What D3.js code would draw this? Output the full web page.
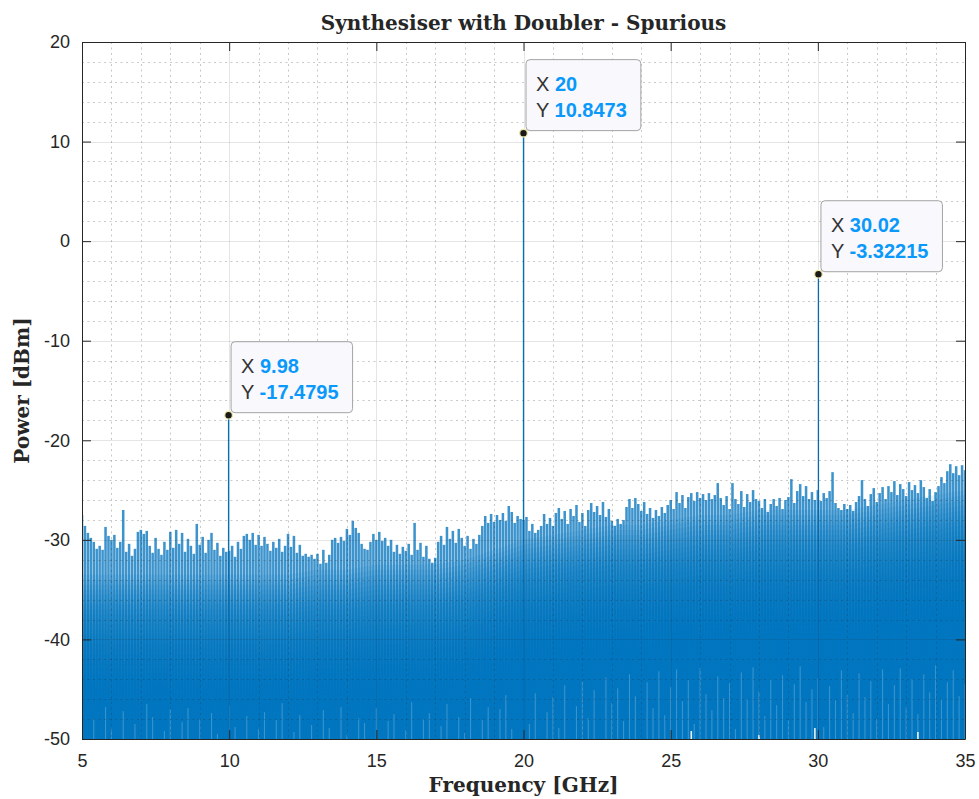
<!DOCTYPE html>
<html>
<head>
<meta charset="utf-8">
<script src="https://cdn.jsdelivr.net/npm/d3@7/dist/d3.min.js"></script>
<style>
  body { margin: 0; background: #fff; }
  .tick text { font-family: "Liberation Sans", Arial, Helvetica, sans-serif; font-size: 18px; fill: #262626; }
  .lbl { font-family: "DejaVu Serif", serif; font-weight: bold; font-size: 20px; fill: #262626; }
</style>
</head>
<body>
<svg id="chart" width="979" height="799"></svg>
<script>
// ---- data ----
var freqStart = 5, freqStep = 0.1;          // noise samples, GHz
// top of the noise spikes, dBm, one value per 0.1 GHz (5.0 .. 35.0)
var noisePeak = [
  -27.5, -28.6, -29.3, -29.8, -30.2, -30.9, -30.6, -31.0, -28.7, -29.6,
  -30.0, -29.5, -30.8, -30.2, -27.0, -31.2, -30.4, -31.6, -30.9, -29.2,
  -29.0, -29.4, -29.1, -30.6, -31.3, -29.8, -30.9, -31.5, -30.2, -31.0,
  -29.2, -30.8, -29.0, -30.4, -29.3, -31.2, -29.9, -30.6, -31.4, -28.4,
  -30.5, -29.7, -31.3, -30.0, -29.3, -31.0, -30.3, -31.6, -30.8, -31.2,
  -31.1, -30.6, -31.7, -30.2, -30.9, -29.6, -29.4, -30.0, -29.3, -30.5,
  -29.5, -30.6, -29.7, -30.4, -31.1, -30.2, -30.8, -29.9, -31.2, -30.6,
  -29.4, -30.7, -29.6, -31.3, -30.5, -31.6, -31.4, -31.7, -31.5, -31.9,
  -31.4, -32.4, -31.0, -32.3, -31.5, -30.0, -29.8, -30.3, -29.7, -30.1,
  -28.9, -29.5, -28.1, -28.8, -29.3, -30.4, -30.9, -31.0, -30.2, -29.4,
  -30.0, -29.2, -30.1, -29.8, -30.6, -30.0, -31.2, -30.5, -31.4, -30.7,
  -31.1, -30.4, -31.5, -28.3, -31.0, -30.3, -31.7, -30.6, -31.9, -32.3,
  -31.8, -30.2, -29.6, -30.5, -28.7, -29.9, -29.1, -30.3, -28.9, -29.8,
  -30.6, -29.6, -30.9, -29.9, -30.4, -29.5, -28.6, -27.6, -28.3, -27.4,
  -28.2, -27.5, -28.0, -27.3, -28.1, -26.6, -27.2, -28.3, -27.6, -27.9,
  -28.0, -27.7, -29.1, -28.4, -29.3, -29.0, -28.6, -27.4, -28.4, -27.8,
  -28.6, -27.3, -26.8, -27.9, -27.1, -28.4, -26.9, -27.6, -26.5, -28.2,
  -27.3, -28.6, -27.0, -26.3, -27.2, -26.6, -27.5, -26.2, -27.7, -26.9,
  -28.1, -28.6, -27.9, -28.4, -28.0, -26.7, -25.9, -26.8, -25.8, -26.4,
  -27.1, -26.2, -27.4, -26.8, -27.8, -27.0, -27.6, -26.7, -27.3, -26.5,
  -26.0, -26.9, -25.2, -26.3, -25.5, -26.8, -25.7, -25.3, -26.1, -25.2,
  -25.8, -25.4, -26.0, -25.3, -25.9, -25.5, -24.3, -25.8, -26.5, -25.6,
  -26.9, -24.3, -25.9, -26.4, -25.1, -26.7, -25.4, -26.2, -25.0, -25.9,
  -26.1, -26.8, -25.9, -27.2, -26.4, -25.9, -26.6, -25.8, -26.9, -26.0,
  -25.7, -23.9, -26.3, -25.1, -24.4, -25.6, -24.6, -25.9, -25.2, -26.0,
  -25.0, -26.1, -25.3, -25.8, -25.1, -23.2, -26.3, -26.8, -27.0, -26.4,
  -26.9, -26.5, -27.1, -26.2, -25.6, -24.0, -25.9, -26.6, -25.4, -24.8,
  -26.2, -25.3, -24.7, -25.9, -24.6, -25.2, -24.1, -25.5, -24.4, -24.9,
  -25.6, -24.2, -25.0, -24.5, -25.3, -24.0, -24.7, -25.8, -24.9, -26.1,
  -25.2, -24.6, -23.7, -24.3, -23.1, -22.4, -23.3, -22.6, -23.5, -22.5,
  -23.0
];
// level below which the trace is solid, dBm, one value per GHz (5 .. 35)
var coreStart = 5, coreStep = 1;
var noiseCore = [
  -40.5, -40.5, -40.5, -40.5, -40.5, -40.5, -40.5, -40.5, -40, -40, -39.5,
  -39.5, -39.5, -39, -38, -37, -36.5, -36, -35.5, -35.5, -35,
  -34.5, -34.5, -34, -34, -34, -34, -33.5, -33, -32.5, -32
];
// shallow troughs (light streaks rising from the floor), one value per 0.2 GHz
var troughStart = 5, troughStep = 0.2;
var noiseTrough = [
  -47.5, -50, -48.0, -50, -46.8, -49.0, -50, -47.2, -50, -48.5,
  -50, -46.5, -47.8, -50, -49.2, -47.0, -50, -48.3, -46.9, -50,
  -48.0, -50, -47.4, -49.5, -50, -46.6, -48.8, -50, -47.7, -50,
  -49.0, -47.3, -50, -48.1, -46.4, -50, -49.3, -47.6, -50, -48.6,
  -50, -47.1, -48.9, -50, -46.8, -49.6, -50, -47.9, -48.4, -50,
  -46.9, -50, -48.2, -47.5, -50, -49.1, -46.3, -50, -48.0, -47.4,
  -50, -48.7, -46.5, -50, -47.8, -49.4, -45.9, -50, -48.1, -46.8,
  -50, -47.0, -45.6, -49.0, -50, -46.2, -48.5, -45.4, -50, -47.3,
  -45.8, -48.9, -44.6, -50, -46.7, -44.2, -47.9, -45.1, -50, -43.8,
  -46.4, -44.9, -48.2, -43.5, -45.7, -50, -44.3, -46.9, -43.2, -47.6,
  -44.8, -43.0, -46.2, -44.1, -48.5, -42.9, -45.5, -47.1, -43.7, -45.9,
  -44.4, -49.0, -43.3, -46.0, -42.8, -45.2, -47.7, -44.0, -46.6, -43.6,
  -48.1, -44.5, -42.7, -46.3, -45.0, -43.9, -48.8, -44.7, -46.1, -43.1,
  -45.6, -47.4, -43.4, -45.8, -44.2, -48.0, -43.0, -46.5, -44.6, -42.9,
  -46.8, -44.0, -47.5, -43.5, -45.3, -42.6, -46.0, -44.3, -43.1, -45.7,
  -44.5
];
// spots where the floor is left almost white
var gapFreq = [25.7, 28.0, 29.9, 33.4];
var gapDb   = [-49.2, -49.6, -48.9, -49.3];
// tones with data tips
var toneFreq  = [9.98, 20, 30.02];
var tonePower = [-17.4795, 10.8473, -3.32215];

var xTicks = [5, 10, 15, 20, 25, 30, 35];
var yTicks = [20, 10, 0, -10, -20, -30, -40, -50];

var titleText = "Synthesiser with Doubler - Spurious";
var xLabel = "Frequency [GHz]";
var yLabel = "Power [dBm]";

// ---- layout ----
var svg = d3.select("#chart"),
    pl = 82, pr = 965, pt = 42, pb = 739;

var x = d3.scaleLinear().domain([5, 35]).range([pl, pr]);
var y = d3.scaleLinear().domain([-50, 20]).range([pb, pt]);
var blue = "#0072BD";

svg.append("defs").append("clipPath").attr("id", "plot")
    .append("rect").attr("x", pl).attr("y", pt)
    .attr("width", pr - pl).attr("height", pb - pt);

var plot = svg.append("g").attr("clip-path", "url(#plot)");

// noise spikes
var noise = noisePeak.map(function (d, i) {
    return {f: freqStart + i * freqStep, p: d};
});
var bw = (x(freqStart + freqStep) - x(freqStart)) * 0.86;

plot.append("g").selectAll("rect")
    .data(noise)
    .enter().append("rect")
    .attr("x", function (d) { return x(d.f) - bw / 2; })
    .attr("width", bw)
    .attr("y", function (d) { return y(d.p); })
    .attr("height", function (d) { return pb - y(d.p); })
    .attr("fill", blue)
    .attr("fill-opacity", 0.76);

// dense core of the trace, faded in over several dB (no hard edge)
var core = noiseCore.map(function (d, i) {
    return {f: coreStart + i * coreStep, p: d};
});
d3.range(7, -6, -0.5).forEach(function (off) {
    plot.append("path")
        .datum(core)
        .attr("fill", blue)
        .attr("fill-opacity", 0.11)
        .attr("d", d3.area()
            .x(function (d) { return x(d.f); })
            .y0(pb)
            .y1(function (d) { return y(d.p + off); }));
});

// light streaks where the trace does not reach the floor
var trough = noiseTrough.map(function (d, i) {
    return {f: troughStart + i * troughStep, p: d};
}).filter(function (d) { return d.p > -50; });
plot.append("g").selectAll("rect")
    .data(trough)
    .enter().append("rect")
    .attr("x", function (d) { return x(d.f) - 0.55; })
    .attr("width", 1.1)
    .attr("y", function (d) { return y(d.p); })
    .attr("height", function (d) { return pb - y(d.p); })
    .attr("fill", "#ffffff")
    .attr("fill-opacity", 0.22);
plot.append("g").selectAll("rect")
    .data(gapFreq)
    .enter().append("rect")
    .attr("x", function (d) { return x(d) - 0.8; })
    .attr("width", 1.6)
    .attr("y", function (d, i) { return y(gapDb[i]); })
    .attr("height", function (d, i) { return pb - y(gapDb[i]); })
    .attr("fill", "#ffffff")
    .attr("fill-opacity", 0.9);

// tone lines
plot.append("g").selectAll("line")
    .data(toneFreq)
    .enter().append("line")
    .attr("x1", function (d) { return x(d); })
    .attr("x2", function (d) { return x(d); })
    .attr("y1", pb)
    .attr("y2", function (d, i) { return y(tonePower[i]); })
    .attr("stroke", blue)
    .attr("stroke-width", 1.3);

// grid (drawn over the trace, translucent like MATLAB)
var grid = svg.append("g");
grid.selectAll(".minx")
    .data(d3.range(6, 35, 1).filter(function (d) { return d % 5 !== 0; }))
    .enter().append("line")
    .attr("x1", function (d) { return Math.round(x(d)) + 0.5; })
    .attr("x2", function (d) { return Math.round(x(d)) + 0.5; })
    .attr("y1", pt).attr("y2", pb)
    .attr("stroke", "#262626").attr("stroke-opacity", 0.25)
    .attr("stroke-dasharray", "2,3.5");
grid.selectAll(".miny")
    .data(d3.range(-48, 20, 2).filter(function (d) { return d % 10 !== 0; }))
    .enter().append("line")
    .attr("y1", function (d) { return Math.round(y(d)) + 0.5; })
    .attr("y2", function (d) { return Math.round(y(d)) + 0.5; })
    .attr("x1", pl).attr("x2", pr)
    .attr("stroke", "#262626").attr("stroke-opacity", 0.25)
    .attr("stroke-dasharray", "2,3.5");
grid.selectAll(".majx")
    .data(xTicks.slice(1, -1))
    .enter().append("line")
    .attr("x1", function (d) { return Math.round(x(d)) + 0.5; })
    .attr("x2", function (d) { return Math.round(x(d)) + 0.5; })
    .attr("y1", pt).attr("y2", pb)
    .attr("stroke", "#262626").attr("stroke-opacity", 0.12);
grid.selectAll(".majy")
    .data(yTicks.slice(1, -1))
    .enter().append("line")
    .attr("y1", function (d) { return Math.round(y(d)) + 0.5; })
    .attr("y2", function (d) { return Math.round(y(d)) + 0.5; })
    .attr("x1", pl).attr("x2", pr)
    .attr("stroke", "#262626").attr("stroke-opacity", 0.12);

// axes (box with inward ticks)
function styleAxis(g) {
    g.select(".domain").attr("stroke", "#262626");
    g.selectAll(".tick line").attr("stroke", "#262626");
}
function plain(d) { return String(d); }
svg.append("g").attr("transform", "translate(0," + pb + ")")
    .call(d3.axisBottom(x).tickValues(xTicks).tickFormat(plain)
        .tickSizeInner(-9).tickSizeOuter(0).tickPadding(15))
    .call(styleAxis);
svg.append("g").attr("transform", "translate(0," + pt + ")")
    .call(d3.axisTop(x).tickValues(xTicks).tickSizeInner(-9).tickSizeOuter(0).tickFormat(""))
    .call(styleAxis);
svg.append("g").attr("transform", "translate(" + pl + ",0)")
    .call(d3.axisLeft(y).tickValues(yTicks).tickFormat(plain)
        .tickSizeInner(-9).tickSizeOuter(0).tickPadding(12))
    .call(styleAxis);
svg.append("g").attr("transform", "translate(" + pr + ",0)")
    .call(d3.axisRight(y).tickValues(yTicks).tickSizeInner(-9).tickSizeOuter(0).tickFormat(""))
    .call(styleAxis);

// labels
svg.append("text").attr("class", "lbl")
    .attr("x", (pl + pr) / 2).attr("y", 30)
    .attr("text-anchor", "middle").text(titleText);
svg.append("text").attr("class", "lbl")
    .attr("x", (pl + pr) / 2).attr("y", 792)
    .attr("text-anchor", "middle").text(xLabel);
svg.append("text").attr("class", "lbl")
    .attr("transform", "translate(29," + (pt + pb) / 2 + ") rotate(-90)")
    .attr("text-anchor", "middle").text(yLabel);

// data tips
toneFreq.forEach(function (f, i) {
    var mx = x(f), my = y(tonePower[i]);
    var tip = svg.append("g");
    var box = tip.append("rect")
        .attr("rx", 4).attr("ry", 4)
        .attr("fill", "#f8f8fd").attr("stroke", "#a3a3a3").attr("stroke-width", 1);
    var bx = mx + 2.5, by = my - 73.5;
    var t1 = tip.append("text").attr("x", bx + 10).attr("y", by + 31)
        .style("font-family", "'Liberation Sans', Arial, Helvetica, sans-serif")
        .style("font-size", "20px");
    t1.append("tspan").attr("fill", "#333333").text("X ");
    t1.append("tspan").attr("fill", "#0a99fb").attr("font-weight", "bold").text(String(f));
    var t2 = tip.append("text").attr("x", bx + 10).attr("y", by + 57)
        .style("font-family", "'Liberation Sans', Arial, Helvetica, sans-serif")
        .style("font-size", "20px");
    t2.append("tspan").attr("fill", "#333333").text("Y ");
    t2.append("tspan").attr("fill", "#0a99fb").attr("font-weight", "bold").text(String(tonePower[i]));
    var w = Math.max(t1.node().getComputedTextLength(), t2.node().getComputedTextLength()) + 24;
    box.attr("x", bx).attr("y", by).attr("width", w).attr("height", 71);

    svg.append("circle").attr("cx", mx).attr("cy", my).attr("r", 3.8)
        .attr("fill", "#1a1a1a").attr("stroke", "#f1e9a8").attr("stroke-width", 1.2);
});
</script>
</body>
</html>
